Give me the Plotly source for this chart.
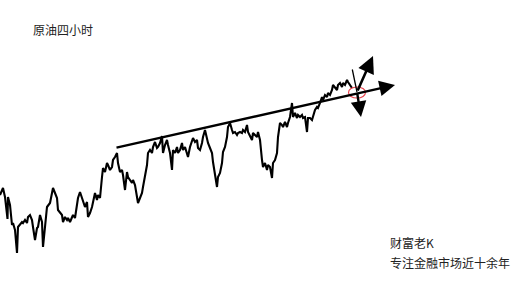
import plotly.graph_objects as go

# bar index (4-hour bars) and closing level (price index)
bars = [0, 2, 3, 5, 7, 7.5, 8, 10, 12, 13, 15, 17, 18, 20, 22, 23, 25, 27, 28, 30,
        32, 33, 35, 37, 38, 40, 42, 43, 45, 47, 50, 52, 53, 55, 57, 58, 60, 62, 63, 65,
        67, 68, 70, 72, 73, 75, 77, 78, 80, 82, 83, 85, 87, 88, 90, 92, 95, 97, 98, 100,
        102, 103, 105, 107, 108, 110, 112, 113, 115, 117, 118, 120, 122, 123, 125, 127, 128, 130, 132, 133,
        135, 137, 138, 140, 142, 143, 145, 147, 148, 150, 152, 153, 155, 157, 158, 160, 162, 163, 165, 167,
        168, 170, 172, 173, 175, 177, 178, 180, 182, 183, 185, 187, 188, 190, 192, 193, 195, 197, 198, 200,
        202, 203, 205, 207, 208, 210, 212, 213, 215, 217, 218, 220, 222, 223, 225, 227, 228, 230, 232, 233,
        235, 237, 238, 240, 242, 243, 245, 247, 248, 250, 252, 253, 255, 257, 258, 260, 262, 263, 265, 267,
        268, 270, 272, 273, 275, 277, 278, 280, 282, 283, 285, 287, 288, 290, 292, 293, 295, 297, 298, 300,
        302, 303, 305, 307, 308, 310, 312, 313, 315, 317, 318, 320, 322, 323, 325, 327, 328, 330, 332, 333,
        335, 337, 338, 340, 342, 343, 345, 347, 348, 350, 352]
price = [105, 110, 112, 103, 83, 81, 103, 95, 75, 77, 70, 47, 73, 75, 78, 77, 80, 77, 83, 85,
         80, 73, 60, 72, 73, 85, 78, 53, 77, 93, 97, 107, 112, 107, 102, 90, 88, 85, 78, 83,
         80, 82, 78, 83, 85, 82, 93, 102, 108, 102, 98, 93, 98, 83, 87, 93, 107, 100, 105, 102,
         123, 132, 128, 137, 135, 130, 133, 140, 143, 147, 137, 128, 130, 125, 110, 128, 123, 120, 117, 120,
         115, 103, 97, 102, 107, 113, 123, 135, 147, 150, 147, 153, 158, 152, 153, 157, 164, 147, 155, 160,
         155, 147, 130, 150, 147, 153, 147, 150, 157, 150, 153, 145, 143, 153, 160, 162, 158, 160, 152, 150,
         157, 163, 170, 160, 157, 152, 147, 138, 127, 113, 123, 127, 137, 148, 153, 163, 173, 177, 170, 167,
         168, 165, 167, 168, 167, 170, 168, 175, 168, 163, 160, 167, 165, 163, 168, 160, 140, 133, 137, 130,
         135, 133, 122, 137, 140, 147, 163, 177, 175, 173, 178, 173, 177, 183, 197, 183, 187, 182, 185, 183,
         185, 182, 183, 168, 182, 182, 180, 183, 190, 193, 192, 197, 203, 200, 205, 203, 207, 205, 210, 215,
         212, 210, 215, 217, 213, 217, 215, 220, 218, 215, 212]

# trend line (support) start / end in (bar, level)
trend_start = (115, 152)
trend_end = (395, 215)
pivot = (357, 208)
up_target = (373, 244)
down_target = (361, 183)
spike_top = (352, 232)

fig = go.Figure()
fig.add_trace(go.Scatter(x=bars, y=price, mode="lines",
                         line=dict(color="black", width=2.1), hoverinfo="skip"))

arrow_common = dict(xref="x", yref="y", axref="x", ayref="y", text="",
                    showarrow=True, arrowcolor="black", arrowhead=2)
annotations = [
    dict(x=trend_end[0], y=trend_end[1], ax=trend_start[0], ay=trend_start[1],
         arrowwidth=2.4, arrowsize=1.3, **arrow_common),
    dict(x=up_target[0], y=up_target[1], ax=pivot[0], ay=pivot[1],
         arrowwidth=2.6, arrowsize=1.3, **arrow_common),
    dict(x=down_target[0], y=down_target[1], ax=pivot[0], ay=pivot[1],
         arrowwidth=2.4, arrowsize=1.3, **arrow_common),
    dict(x=pivot[0], y=pivot[1], ax=spike_top[0], ay=spike_top[1],
         arrowwidth=1.3, arrowhead=0, xref="x", yref="y", axref="x", ayref="y",
         text="", showarrow=True, arrowcolor="black"),
    dict(x=31, y=271, xref="x", yref="y", text="原油四小时", showarrow=False,
         xanchor="left", yanchor="middle",
         font=dict(family="Noto Sans CJK SC", size=12, color="#222")),
    dict(x=388, y=58, xref="x", yref="y", text="财富老K", showarrow=False,
         xanchor="left", yanchor="middle",
         font=dict(family="Noto Sans CJK SC", size=12, color="#222")),
    dict(x=388, y=38, xref="x", yref="y", text="专注金融市场近十余年", showarrow=False,
         xanchor="left", yanchor="middle",
         font=dict(family="Noto Sans CJK SC", size=12, color="#222")),
]

fig.add_shape(type="circle", xref="x", yref="y",
              x0=pivot[0] - 8.5, x1=pivot[0] + 8.5, y0=pivot[1] - 6, y1=pivot[1] + 5,
              line=dict(color="#e8404a", width=1.2))

fig.update_layout(
    width=527, height=281,
    margin=dict(l=0, r=0, t=0, b=0),
    paper_bgcolor="white", plot_bgcolor="white",
    showlegend=False,
    xaxis=dict(range=[0, 527], visible=False, fixedrange=True),
    yaxis=dict(range=[19, 300], visible=False, fixedrange=True),
    annotations=annotations,
)

fig.write_html("out.html")
